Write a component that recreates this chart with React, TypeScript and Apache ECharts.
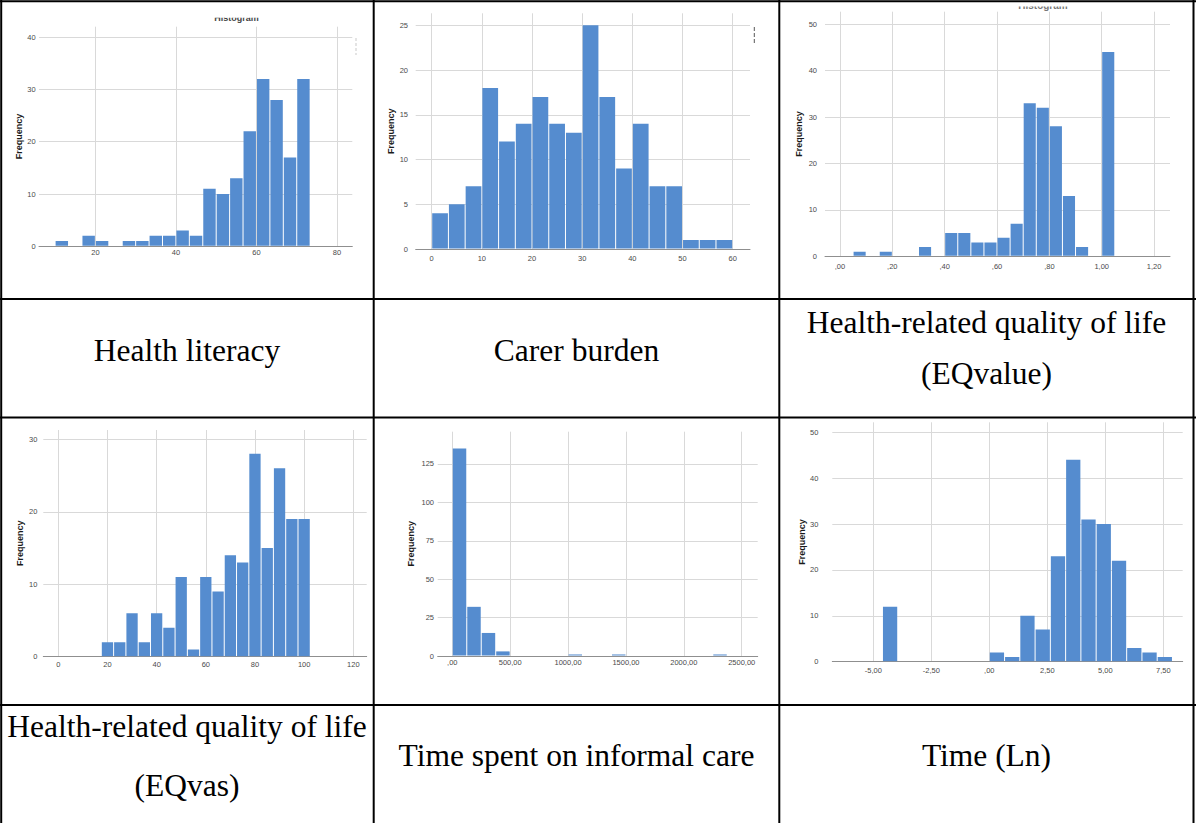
import React, { useEffect, useRef } from 'react';
import * as echarts from 'echarts';

// ---------- data (bin start, bin width, frequencies) ----------
const hlStart = 10;
const hlWidth = 10 / 3;
const hlCounts = [1, 0, 2, 1, 0, 1, 1, 2, 2, 3, 2, 11, 10, 13, 22, 32, 28, 17, 32];

const cbStart = 0;
const cbWidth = 10 / 3;
const cbCounts = [4, 5, 7, 18, 12, 14, 17, 14, 13, 25, 17, 9, 14, 7, 7, 1, 1, 1];

const eqvStart = 0.05;
const eqvWidth = 0.05;
const eqvCounts = [1, 0, 1, 0, 0, 2, 0, 5, 5, 3, 3, 4, 7, 33, 32, 28, 13, 2, 0, 44];

const vasStart = 17.5;
const vasWidth = 5;
const vasCounts = [2, 2, 6, 2, 6, 4, 11, 1, 11, 9, 14, 13, 28, 15, 26, 19, 19];

const timeStart = 0;
const timeWidth = 125;
const timeCounts = [135, 32, 15, 3, 0, 0, 0, 0, 1, 0, 0, 1, 0, 0, 0, 0, 0, 0, 1];

const lnStart = -4.60517;
const lnWidth = 0.65788;
const lnCounts = [12, 0, 0, 0, 0, 0, 0, 2, 1, 10, 7, 23, 44, 31, 30, 22, 3, 2, 1];

const captions = [
  ['Health literacy'],
  ['Carer burden'],
  ['Health-related quality of life', '(EQvalue)'],
  ['Health-related quality of life', '(EQvas)'],
  ['Time spent on informal care'],
  ['Time (Ln)'],
];

// ---------- styling / layout ----------
const BAR = '#558ccf';
const GRID_LINE = '#d9d9d9';
const AXIS_LINE = '#8f8f8f';
const LABEL = '#4a4a4a';
const SANS = '"Liberation Sans", Arial, sans-serif';
const SERIF = '"Liberation Serif", "Times New Roman", serif';

const comma = (v: number) => {
  let s = v.toFixed(2).replace('.', ',');
  if (s.startsWith('0,')) s = s.slice(1);
  if (s.startsWith('-0,')) s = '-' + s.slice(2);
  return s;
};

const panels = [
  { left: 39, top: 26.7, width: 313.3, height: 219.6, xMin: 6, xMax: 83.8, xInt: 20, yMax: 42, yInt: 10, ylm: 3.3, xlm: 2.3, gap: 16, fmt: null as any, data: [hlStart, hlWidth, hlCounts] },
  { left: 415.7, top: 13.3, width: 334.3, height: 235.7, xMin: -3.19, xMax: 63.45, xInt: 10, yMax: 26.34, yInt: 5, ylm: 7.7, xlm: 5, gap: 18, fmt: null as any, data: [cbStart, cbWidth, cbCounts] },
  { left: 825, top: 11.7, width: 345, height: 244.6, xMin: -0.0573, xMax: 1.261, xInt: 0.2, yMax: 52.7, yInt: 10, ylm: 8, xlm: 6.6, gap: 22, fmt: comma, data: [eqvStart, eqvWidth, eqvCounts] },
  { left: 43.3, top: 430, width: 323.4, height: 226.7, xMin: -6.1, xMax: 125.45, xInt: 20, yMax: 31.28, yInt: 10, ylm: 6, xlm: 3.5, gap: 19, fmt: null as any, data: [vasStart, vasWidth, vasCounts] },
  { left: 437.7, top: 431.7, width: 320, height: 224.3, xMin: -126, xMax: 2638, xInt: 500, yMax: 146, yInt: 25, ylm: 3.7, xlm: 2, gap: 22, fmt: comma, data: [timeStart, timeWidth, timeCounts] },
  { left: 832.3, top: 422.3, width: 350.4, height: 239.4, xMin: -6.767, xMax: 8.336, xInt: 2.5, yMax: 52.18, yInt: 10, ylm: 14, xlm: 5, gap: 19.5, fmt: comma, data: [lnStart, lnWidth, lnCounts] },
];

const toBins = (start: number, width: number, counts: number[]) =>
  counts.map((c, i) => [start + i * width, start + (i + 1) * width, c]);

function buildOption() {
  const grid: any[] = [];
  const xAxis: any[] = [];
  const yAxis: any[] = [];
  const series: any[] = [];

  panels.forEach((p, i) => {
    grid.push({ left: p.left, top: p.top, width: p.width, height: p.height, containLabel: false, outerBoundsMode: 'none' });
    xAxis.push({
      type: 'value',
      gridIndex: i,
      min: p.xMin,
      max: p.xMax,
      minInterval: p.xInt,
      maxInterval: p.xInt,
      axisLine: { show: true, onZero: false, lineStyle: { color: AXIS_LINE, width: 1 } },
      axisTick: { show: false },
      axisLabel: {
        show: true,
        showMinLabel: false,
        showMaxLabel: false,
        margin: p.xlm,
        fontSize: 7.5,
        fontFamily: SANS,
        color: LABEL,
        formatter: p.fmt ? (v: number) => p.fmt(v) : undefined,
      },
      splitLine: { show: true, showMinLine: false, showMaxLine: false, lineStyle: { color: GRID_LINE, width: 1 } },
    });
    yAxis.push({
      type: 'value',
      gridIndex: i,
      min: 0,
      max: p.yMax,
      interval: p.yInt,
      name: 'Frequency',
      nameLocation: 'middle',
      nameGap: p.gap,
      nameTextStyle: { fontSize: 9, fontWeight: 'bold', fontFamily: SANS, color: '#1a1a1a' },
      axisLine: { show: false },
      axisTick: { show: false },
      axisLabel: {
        showMaxLabel: false,
        margin: p.ylm,
        fontSize: 7.5,
        fontFamily: SANS,
        color: LABEL,
      },
      splitLine: { show: true, showMinLine: false, showMaxLine: false, lineStyle: { color: GRID_LINE, width: 1 } },
    });
    const [s, w, c] = p.data as [number, number, number[]];
    series.push({
      type: 'custom',
      xAxisIndex: i,
      yAxisIndex: i,
      clip: true,
      encode: { x: [0, 1], y: 2 },
      data: toBins(s, w, c),
      renderItem: (_params: any, api: any) => {
        const count = api.value(2);
        if (!count) return null;
        const a = api.coord([api.value(0), count]);
        const b = api.coord([api.value(1), 0]);
        return {
          type: 'rect',
          shape: { x: a[0] + 0.5, y: a[1], width: b[0] - a[0] - 1, height: b[1] - a[1] - 0.5 },
          style: { fill: BAR },
        };
      },
    });
  });

  // table rules
  const H = [1.2, 299, 417.5, 705];
  const V = [1.2, 373.7, 779.3, 1193.5];
  const rules: any[] = [];
  H.forEach((y) => rules.push({ type: 'line', shape: { x1: 0, y1: y, x2: 1196, y2: y }, style: { stroke: '#000', lineWidth: 2 }, z: 100 }));
  V.forEach((x) => rules.push({ type: 'line', shape: { x1: x, y1: 0, x2: x, y2: 823 }, style: { stroke: '#000', lineWidth: 2 }, z: 100 }));

  // captions (text-centre y for each line)
  const cx = [187, 576.5, 986.5];
  const captionY = [
    [350.1],
    [350.1],
    [322.5, 373.5],
    [726.4, 785.4],
    [755.4],
    [755.4],
  ];
  const texts: any[] = [];
  captions.forEach((lines, i) => {
    const col = i % 3;
    lines.forEach((t, k) => {
      texts.push({
        type: 'text',
        z: 100,
        style: { text: t, x: cx[col], y: captionY[i][k], align: 'center', verticalAlign: 'middle', fontSize: 31.5, fontFamily: SERIF, fill: '#000' },
      });
    });
  });

  // clipped chart titles and legend remnants from the pasted images
  const extras: any[] = [
    { type: 'text', z: 50, style: { text: 'Histogram', x: 236.5, y: 18.4, align: 'center', verticalAlign: 'middle', fontSize: 9, fontWeight: 'bold', fontFamily: SANS, fill: '#444' } },
    { type: 'rect', z: 60, shape: { x: 205, y: 3, width: 65, height: 14.8 }, style: { fill: '#fff' } },
    { type: 'text', z: 50, style: { text: 'Histogram', x: 1043, y: 5.2, align: 'center', verticalAlign: 'middle', fontSize: 10, fontWeight: 'bold', fontFamily: SANS, fill: '#777' } },
    { type: 'rect', z: 60, shape: { x: 1005, y: 2, width: 80, height: 4.5 }, style: { fill: '#fff' } },
    { type: 'line', z: 50, shape: { x1: 356, y1: 38, x2: 356, y2: 55 }, style: { stroke: '#bbb', lineWidth: 0.8, lineDash: [3, 2] } },
    { type: 'line', z: 50, shape: { x1: 754.3, y1: 27, x2: 754.3, y2: 45 }, style: { stroke: '#444', lineWidth: 0.9, lineDash: [4, 2] } },
  ];

  return {
    animation: false,
    backgroundColor: '#fff',
    grid,
    xAxis,
    yAxis,
    series,
    graphic: [...extras, ...rules, ...texts],
  };
}

export default function App() {
  const ref = useRef<HTMLDivElement>(null);
  useEffect(() => {
    document.body.style.margin = '0';
    const chart = echarts.init(ref.current!, null, { renderer: 'svg' });
    chart.setOption(buildOption() as any);
    return () => chart.dispose();
  }, []);
  return <div ref={ref} style={{ width: 1196, height: 823 }} />;
}
